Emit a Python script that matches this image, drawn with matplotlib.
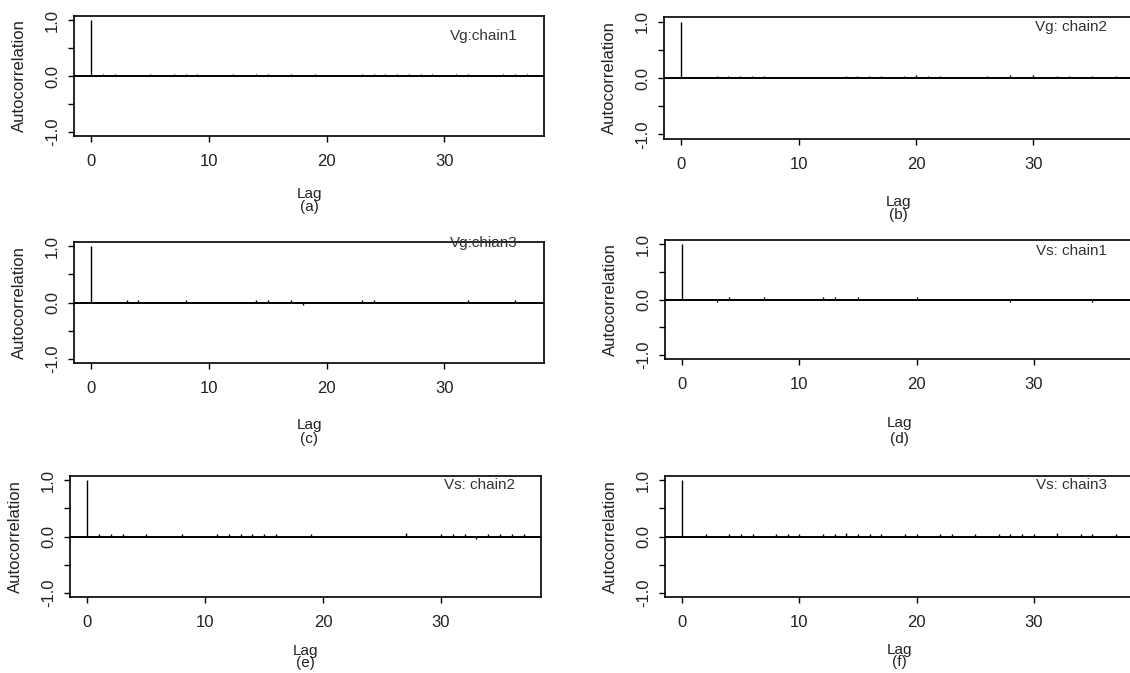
import numpy as np
import matplotlib
matplotlib.use('Agg')
import matplotlib.pyplot as plt

plt.rcParams['font.family'] = ['Liberation Sans', 'DejaVu Sans']

# autocorrelation values, lags 0..37
lags = list(range(38))
acf_a = [1.0, .04, .04, .004, .004, .04, .004, .04, .04, .04, .004, .004, .04, .004, .04, .04, .004, .04, .004, .04,
         .004, .004, .004, .04, .04, .04, .04, .04, .04, .04, .004, .04, .04, .004, .004, .04, .04, .04]
acf_b = [1.0, .004, .004, .04, .04, .04, .04, .04, .004, .004, .004, .004, .004, .004, .04, .04, .04, .04, .004, .04,
         .06, .04, .04, .004, .004, .004, .04, .004, .06, .004, .06, .004, .04, .04, .004, .04, .004, .04]
acf_c = [1.0, .004, .004, .04, .04, .004, .004, .004, .04, .004, .004, .004, .004, .004, .04, .04, .004, .04, -.04, .004,
         .004, .004, .004, .04, .04, .004, .004, .004, .004, .004, .004, .004, .04, .004, .004, .004, .04, .004]
acf_d = [1.0, .004, .004, -.04, .04, .004, .004, .04, .004, .004, .004, .004, .04, .04, .004, .04, .004, .004, .004, .004,
         .04, .004, .004, .004, .004, .004, .004, .004, -.04, .004, .004, .004, .004, .004, .004, -.04, .004, .004]
acf_e = [1.0, .04, .04, .04, .004, .04, .004, .004, .04, .004, .004, .04, .04, .04, .04, .04, .04, .004, .004, .04,
         .004, .004, .004, .004, .004, .004, .004, .06, .004, .004, .04, .04, .04, -.04, .04, .04, .04, .04]
acf_f = [1.0, .004, .04, .004, .04, .04, .04, .004, .04, .04, .04, .004, .04, .04, .06, .04, .04, .04, .004, .04,
         .04, .004, .04, .04, .004, .04, .004, .04, .04, .04, .04, .004, .06, .004, .04, .04, .004, .04]

series = [acf_a, acf_b, acf_c, acf_d, acf_e, acf_f]
names = ['Vg:chain1', 'Vg: chain2', 'Vg:chian3', 'Vs: chain1', 'Vs: chain2', 'Vs: chain3']
letters = ['(a)', '(b)', '(c)', '(d)', '(e)', '(f)']

W, H = 1130, 673
# panel boxes in pixels: left, top, right, bottom
boxes = [(74, 16, 544, 136), (664, 17, 1133, 139),
         (74, 242, 544, 363), (665, 240, 1133, 359),
         (70, 476, 541, 597), (665, 476, 1133, 597)]
name_dy = [20, 10, 1, 11, 9, 9]
lag_dy = [(58, 71), (63, 76), (62, 76), (64, 80), (54, 66), (53, 65)]

fig = plt.figure(figsize=(W / 100, H / 100), dpi=100)
txt = '#222222'

for i, (l, t, r, b) in enumerate(boxes):
    ax = fig.add_axes([l / W, 1 - b / H, (r - l) / W, (b - t) / H])
    ax.vlines(lags, 0, series[i], color='black', lw=1.0)
    ax.axhline(0, color='black', lw=1.4)
    ax.set_xlim(-1.48, 38.48)
    ax.set_ylim(-1.08, 1.08)
    ax.set_xticks([0, 10, 20, 30])
    ax.set_yticks([-1.0, -0.5, 0.0, 0.5, 1.0])
    ax.set_yticklabels(['-1.0', '', '0.0', '', '1.0'], rotation=90, va='center')
    ax.tick_params(direction='out', length=4, width=1, labelsize=12, colors='black',
                   labelcolor=txt)
    ax.tick_params(axis='x', pad=9)
    ax.tick_params(axis='y', pad=6)
    for s in ax.spines.values():
        s.set_linewidth(1.2)
    ax.annotate('Autocorrelation', xy=(0, 0.5), xycoords='axes fraction',
                xytext=(-39, 0), textcoords='offset points', rotation=90,
                ha='center', va='center', fontsize=12, color=txt)
    ax.annotate(names[i], xy=(1, 1), xycoords='axes fraction',
                xytext=(-19, -name_dy[i] * 0.72), textcoords='offset points',
                ha='right', va='center', fontsize=11, color='#333333')
    ax.annotate('Lag', xy=(0.5, 0), xycoords='axes fraction',
                xytext=(0, -lag_dy[i][0] * 0.72), textcoords='offset points',
                ha='center', va='center', fontsize=11, color=txt)
    ax.annotate(letters[i], xy=(0.5, 0), xycoords='axes fraction',
                xytext=(0, -lag_dy[i][1] * 0.72), textcoords='offset points',
                ha='center', va='center', fontsize=11, color=txt)

fig.savefig('out.png', dpi=100)
